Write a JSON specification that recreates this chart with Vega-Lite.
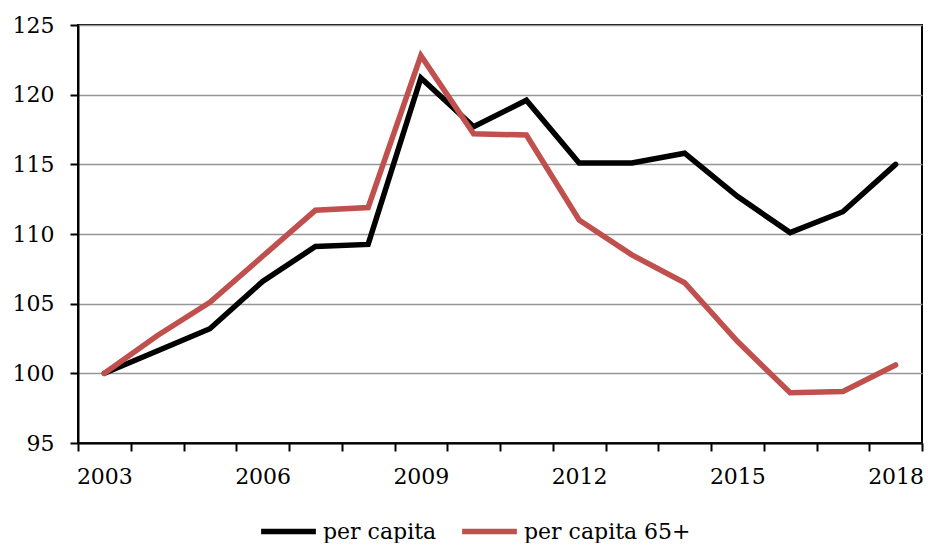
{
  "$schema": "https://vega.github.io/schema/vega-lite/v6.json",
  "width": 844,
  "height": 418,
  "autosize": {"type": "pad"},
  "padding": {"left": 12, "top": 14, "right": 4, "bottom": 0},
  "background": "white",
  "config": {
    "font": "DejaVu Serif",
    "view": {"stroke": "#000000", "strokeWidth": 2},
    "axis": {
      "domainColor": "#000000",
      "domainWidth": 2,
      "tickColor": "#000000",
      "tickWidth": 2,
      "tickSize": 8,
      "labelFont": "DejaVu Serif",
      "labelFontSize": 22,
      "labelColor": "#000000",
      "title": null
    },
    "legend": {
      "labelFont": "DejaVu Serif",
      "labelFontSize": 22,
      "labelColor": "#000000",
      "labelLimit": 0
    }
  },
  "data": {
    "values": [
      {"year": 2003, "series": "per capita", "value": 100.0},
      {"year": 2004, "series": "per capita", "value": 101.6},
      {"year": 2005, "series": "per capita", "value": 103.2},
      {"year": 2006, "series": "per capita", "value": 106.6},
      {"year": 2007, "series": "per capita", "value": 109.1},
      {"year": 2008, "series": "per capita", "value": 109.25},
      {"year": 2009, "series": "per capita", "value": 121.2},
      {"year": 2010, "series": "per capita", "value": 117.7},
      {"year": 2011, "series": "per capita", "value": 119.6},
      {"year": 2012, "series": "per capita", "value": 115.1},
      {"year": 2013, "series": "per capita", "value": 115.1},
      {"year": 2014, "series": "per capita", "value": 115.8},
      {"year": 2015, "series": "per capita", "value": 112.7},
      {"year": 2016, "series": "per capita", "value": 110.1},
      {"year": 2017, "series": "per capita", "value": 111.6},
      {"year": 2018, "series": "per capita", "value": 115.0},
      {"year": 2003, "series": "per capita 65+", "value": 100.0},
      {"year": 2004, "series": "per capita 65+", "value": 102.7},
      {"year": 2005, "series": "per capita 65+", "value": 105.1},
      {"year": 2006, "series": "per capita 65+", "value": 108.4},
      {"year": 2007, "series": "per capita 65+", "value": 111.7},
      {"year": 2008, "series": "per capita 65+", "value": 111.9},
      {"year": 2009, "series": "per capita 65+", "value": 122.8},
      {"year": 2010, "series": "per capita 65+", "value": 117.2},
      {"year": 2011, "series": "per capita 65+", "value": 117.1},
      {"year": 2012, "series": "per capita 65+", "value": 111.0},
      {"year": 2013, "series": "per capita 65+", "value": 108.5},
      {"year": 2014, "series": "per capita 65+", "value": 106.5},
      {"year": 2015, "series": "per capita 65+", "value": 102.3},
      {"year": 2016, "series": "per capita 65+", "value": 98.6},
      {"year": 2017, "series": "per capita 65+", "value": 98.7},
      {"year": 2018, "series": "per capita 65+", "value": 100.6}
    ]
  },
  "mark": {"type": "line", "strokeWidth": 5.5, "strokeCap": "round"},
  "encoding": {
    "x": {
      "field": "year",
      "type": "ordinal",
      "scale": {"type": "band", "paddingInner": 0, "paddingOuter": 0},
      "axis": {
        "tickBand": "extent",
        "labelAngle": 0,
        "labelPadding": 15,
        "grid": false,
        "labelExpr": "(+datum.value - 2003) % 3 == 0 ? datum.label : ''"
      }
    },
    "y": {
      "field": "value",
      "type": "quantitative",
      "scale": {"domain": [95, 125], "nice": false, "zero": false},
      "axis": {
        "values": [95, 100, 105, 110, 115, 120, 125],
        "labelPadding": 16,
        "grid": true,
        "gridColor": "#969696",
        "gridWidth": 1.5
      }
    },
    "color": {
      "field": "series",
      "type": "nominal",
      "scale": {"domain": ["per capita", "per capita 65+"], "range": ["#000000", "#C0504D"]},
      "legend": {
        "title": null,
        "orient": "none",
        "direction": "horizontal",
        "legendX": 180,
        "legendY": 476,
        "gridAlign": "none",
        "symbolType": "stroke",
        "symbolSize": 3000,
        "symbolStrokeWidth": 5.5,
        "labelOffset": 4,
        "columnPadding": 14
      }
    }
  }
}
